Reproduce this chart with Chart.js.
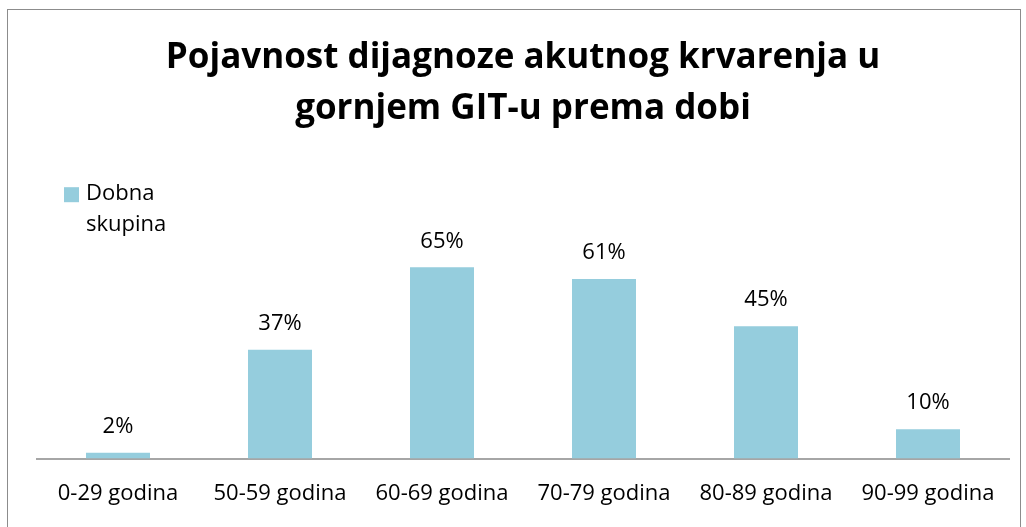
<!DOCTYPE html>
<html lang="hr">
<head>
  <meta charset="UTF-8" />
  <title>Pojavnost dijagnoze akutnog krvarenja</title>
  <script src="https://cdn.jsdelivr.net/npm/chart.js"></script>
  <style>
    body {
      margin: 0;
      background: #fff;
    }
    #frame {
      position: absolute;
      left: 7px;
      top: 9px;
      width: 1012px;
      height: 560px;
      border: 1px solid #8c8c8c;
    }
    canvas {
      display: block;
    }
  </style>
</head>
<body>
  <div id="frame">
    <canvas id="chart" width="1012" height="544"></canvas>
  </div>
  <script>
    const categories = ['0-29 godina', '50-59 godina', '60-69 godina', '70-79 godina', '80-89 godina', '90-99 godina'];
    const values = [2, 37, 65, 61, 45, 10];
    const seriesName = ['Dobna', 'skupina'];
    const titleLines = ['Pojavnost dijagnoze akutnog krvarenja u', 'gornjem GIT-u prema dobi'];

    const barColor = '#95cddd';
    const textFont = '"Open Sans", sans-serif';

    // oznake iznad stupaca
    const valueLabels = {
      id: 'valueLabels',
      afterDatasetsDraw(chart) {
        const ctx = chart.ctx;
        const meta = chart.getDatasetMeta(0);
        ctx.save();
        ctx.font = '22px ' + textFont;
        ctx.fillStyle = '#000';
        ctx.textAlign = 'center';
        ctx.textBaseline = 'middle';
        meta.data.forEach((bar, i) => {
          ctx.fillText(values[i] + '%', bar.x, bar.y - 26);
        });
        ctx.restore();
      }
    };

    // legenda u gornjem lijevom kutu
    const sideLegend = {
      id: 'sideLegend',
      afterDraw(chart) {
        const ctx = chart.ctx;
        const area = chart.chartArea;
        const x = area.left + 27;
        const y = area.top + 17;
        ctx.save();
        ctx.fillStyle = barColor;
        ctx.fillRect(x, y, 15, 15);
        ctx.font = '22px ' + textFont;
        ctx.fillStyle = '#000';
        ctx.textAlign = 'left';
        ctx.textBaseline = 'middle';
        seriesName.forEach((line, i) => {
          ctx.fillText(line, x + 22, y + 7 + i * 31);
        });
        ctx.restore();
      }
    };

    new Chart(document.getElementById('chart'), {
      type: 'bar',
      data: {
        labels: categories,
        datasets: [{
          label: seriesName.join(' '),
          data: values,
          backgroundColor: barColor,
          barPercentage: 1,
          categoryPercentage: 0.395
        }]
      },
      options: {
        responsive: false,
        animation: false,
        layout: {
          padding: { left: 29, right: 11, top: 0, bottom: 25 }
        },
        plugins: {
          legend: { display: false },
          tooltip: { enabled: false },
          title: {
            display: true,
            text: titleLines,
            color: '#000',
            font: { family: '"Open Sans", sans-serif', size: 35, weight: 'bold', lineHeight: 1.46 },
            padding: { top: 22, bottom: 36 }
          }
        },
        scales: {
          x: {
            grid: { display: false, drawTicks: false },
            border: { display: true, color: '#a6a6a6', width: 2 },
            ticks: {
              color: '#000',
              padding: 22,
              maxRotation: 0,
              font: { family: '"Open Sans", sans-serif', size: 22 }
            }
          },
          y: {
            display: false,
            min: 0,
            max: 98
          }
        }
      },
      plugins: [valueLabels, sideLegend]
    });
  </script>
</body>
</html>
